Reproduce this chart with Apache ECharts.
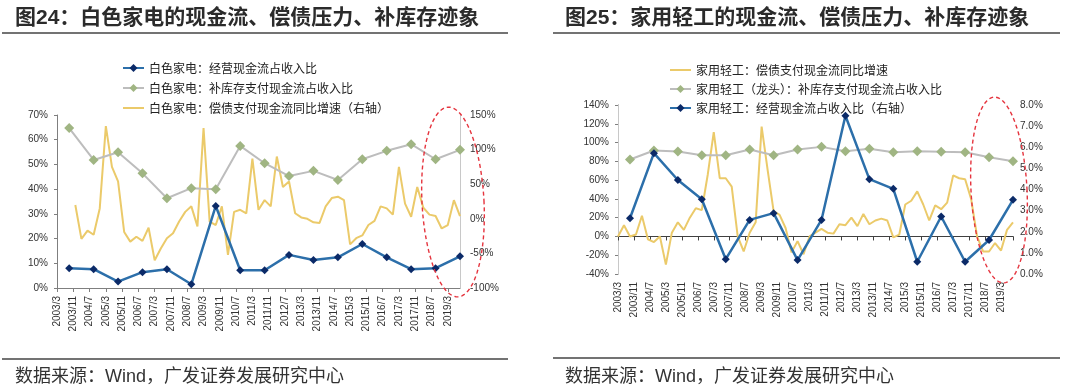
<!DOCTYPE html>
<html>
<head>
<meta charset="utf-8">
<script src="https://cdn.jsdelivr.net/npm/echarts@6.0.0/dist/echarts.min.js"></script>
<style>
html,body{margin:0;padding:0;background:#ffffff;}
#c{width:1080px;height:390px;}
</style>
</head>
<body>
<div id="c"></div>
<script>
// ---------------- DATA ----------------
// Chart 1 (图24 白色家电)
const w_title = '图24：白色家电的现金流、偿债压力、补库存迹象';
const w_nameBlue = '白色家电：经营现金流占收入比';
const w_nameGreen = '白色家电：补库存支付现金流占收入比';
const w_nameYellow = '白色家电：偿债支付现金流同比增速（右轴）';
// annual points
const w_annualDates = ['2003/9','2004/9','2005/9','2006/9','2007/9','2008/9','2009/9','2010/9','2011/9','2012/9','2013/9','2014/9','2015/9','2016/9','2017/9','2018/9','2019/9'];
const w_blue  = [8.0, 7.6, 2.6, 6.4, 7.6, 1.5, 33.2, 7.2, 7.2, 13.4, 11.3, 12.4, 17.8, 12.4, 7.6, 8.0, 12.8];
const w_green = [64.7, 51.8, 54.9, 46.4, 36.3, 40.4, 40.0, 57.5, 50.5, 45.3, 47.4, 43.7, 52.1, 55.5, 58.2, 52.1, 55.9];
// quarterly points, 2003/12 .. 2019/9
const w_yellowDates = ['2003/12','2004/3','2004/6','2004/9','2004/12','2005/3','2005/6','2005/9','2005/12','2006/3','2006/6','2006/9','2006/12','2007/3','2007/6','2007/9','2007/12','2008/3','2008/6','2008/9','2008/12','2009/3','2009/6','2009/9','2009/12','2010/3','2010/6','2010/9','2010/12','2011/3','2011/6','2011/9','2011/12','2012/3','2012/6','2012/9','2012/12','2013/3','2013/6','2013/9','2013/12','2014/3','2014/6','2014/9','2014/12','2015/3','2015/6','2015/9','2015/12','2016/3','2016/6','2016/9','2016/12','2017/3','2017/6','2017/9','2017/12','2018/3','2018/6','2018/9','2018/12','2019/3','2019/6','2019/9'];
const w_yellow = [20, -29, -17, -23, 15, 134, 75, 54, -19, -33, -26, -32, -13, -60, -43, -28,
  -21, -4, 10, 18, -11, 131, -4, -9, 18, -52, 10, 13, 8, 87, 13, 27,
  18, 90, 46, 54, 8, 2, 0, -5, -6, 18, 30, 32, 27, -37, -28, -24,
  -9, -3, 18, 15, 6, 75, 22, 3, 46, 16, 6, 4, -14, -9, 27, 4];

// Chart 2 (图25 家用轻工)
const h_title = '图25：家用轻工的现金流、偿债压力、补库存迹象';
const h_nameYellow = '家用轻工：偿债支付现金流同比增速';
const h_nameGreen = '家用轻工（龙头）：补库存支付现金流占收入比';
const h_nameBlue = '家用轻工：经营现金流占收入比（右轴）';
const h_annualDates = w_annualDates;
const h_green = [81.9, 91.5, 90.4, 86.5, 86.5, 92.5, 86.5, 92.5, 95.4, 90.8, 93.3, 89.7, 90.8, 90.1, 89.7, 84.4, 80.1];
const h_blue  = [2.64, 5.72, 4.45, 3.54, 0.70, 2.56, 2.88, 0.66, 2.56, 7.49, 4.49, 4.03, 0.58, 2.72, 0.58, 1.61, 3.51];
const h_yellowDates = ['2003/3','2003/6','2003/9'].concat(w_yellowDates);
const h_yellow = [0, 12, 0, 2, 22, -3, -6, 0, -30, 4, 15, 7, 20, 30, 28, 66,
  111, 62, 62, 53, 0, -16, 4, 15, 117, 71, 27, 23, 9, -17, -5, -19,
  0, 4, 8, 4, 3, 13, 12, 20, 11, 24, 13, 17, 19, 17, -1, 2,
  34, 38, 48, 34, 17, 33, 29, 36, 65, 62, 61, 40, 0, -16, -16, -7,
  -15, 7, 15];

const sourceText = '数据来源：Wind，广发证券发展研究中心';

// ---------------- HELPERS ----------------
function mi(s){ const p = s.split('/').map(Number); return (p[0]-2003)*12 + (p[1]-3); }
function pairs(dates, vals){ return dates.map((d,i)=>[mi(d), vals[i]]); }
function monthLabel(v){
  if (v % 8 !== 0) return '';
  const t = v + 2; return (2003 + Math.floor(t/12)) + '/' + ((t % 12) + 1);
}
function ellipse(cx, cy, rx, ry, rot){
  const a = rot*Math.PI/180, pts = [];
  for (let i=0;i<96;i++){
    const t = i/96*2*Math.PI, x = rx*Math.cos(t), y = ry*Math.sin(t);
    pts.push([cx + x*Math.cos(a) - y*Math.sin(a), cy + x*Math.sin(a) + y*Math.cos(a)]);
  }
  return pts;
}

const BLUE = '#2C6FAA', BLUE_DOT = '#0B2A68', GREEN_DOT = '#A0B583', GRAY = '#BDBDBD', YEL = '#EBCA6A';
const AX = '#7F7F7F', AXL = '#C8C8C8', TXT = '#333333';
const LATIN = '"Liberation Sans", Arial, sans-serif';
const CJK = '"Noto Sans CJK SC", sans-serif';
const LINE_ICON = 'path://M0,0 L84,0 L84,8 L0,8 Z';

const xBase = {
  type: 'value', min: 0, max: 198, interval: 8, splitLine: {show: false},
  axisLabel: {rotate: 90, fontSize: 10, color: TXT, fontFamily: LATIN, margin: 8, showMaxLabel: false, formatter: monthLabel}
};

const chart = echarts.init(document.getElementById('c'), null, {renderer: 'canvas'});
chart.setOption({
  backgroundColor: '#ffffff',
  animation: false,
  grid: [
    {left: 57, top: 115, width: 403, height: 173},
    {left: 618, top: 105, width: 395, height: 169}
  ],
  xAxis: [
    Object.assign({}, xBase, {gridIndex: 0, position: 'bottom',
      axisLine: {show: true, onZero: false, lineStyle: {color: AX, width: 1}},
      axisTick: {show: true, length: 4, lineStyle: {color: AX}}}),
    Object.assign({}, xBase, {gridIndex: 1, position: 'bottom',
      axisLine: {show: false, onZero: false}, axisTick: {show: false}}),
    Object.assign({}, xBase, {gridIndex: 1, position: 'bottom',
      axisLine: {show: true, onZero: true, onZeroAxisIndex: 2, lineStyle: {color: '#404040', width: 1}},
      axisTick: {show: true, length: 4, lineStyle: {color: '#404040'}},
      axisLabel: {show: false}})
  ],
  yAxis: [
    {gridIndex: 0, type: 'value', position: 'left', min: 0, max: 70, interval: 10, splitLine: {show: false},
     axisLine: {show: true, lineStyle: {color: AX}}, axisTick: {show: true, length: 3, lineStyle: {color: AX}},
     axisLabel: {formatter: '{value}%', fontSize: 10, color: TXT, fontFamily: LATIN, margin: 9}},
    {gridIndex: 0, type: 'value', position: 'right', min: -100, max: 150, interval: 50, splitLine: {show: false},
     axisLine: {show: true, lineStyle: {color: AXL}}, axisTick: {show: false},
     axisLabel: {formatter: '{value}%', fontSize: 10, color: TXT, fontFamily: LATIN, margin: 10}},
    {gridIndex: 1, type: 'value', position: 'left', min: -40, max: 140, interval: 20, splitLine: {show: false},
     axisLine: {show: true, lineStyle: {color: AX}}, axisTick: {show: true, length: 3, lineStyle: {color: AX}},
     axisLabel: {formatter: '{value}%', fontSize: 10, color: TXT, fontFamily: LATIN, margin: 9}},
    {gridIndex: 1, type: 'value', position: 'right', min: 0, max: 8, interval: 1, splitLine: {show: false},
     axisLine: {show: true, lineStyle: {color: AXL}}, axisTick: {show: false},
     axisLabel: {formatter: v => v.toFixed(1) + '%', fontSize: 10, color: TXT, fontFamily: LATIN, margin: 7}}
  ],
  legend: [
    {data: [w_nameBlue, w_nameGreen, {name: w_nameYellow, icon: LINE_ICON}], orient: 'vertical', left: 122, top: 62, padding: 0,
     itemWidth: 21, itemHeight: 10, itemGap: 8, textStyle: {fontSize: 12, lineHeight: 12, color: '#222', fontFamily: CJK}},
    {data: [{name: h_nameYellow, icon: LINE_ICON}, h_nameGreen, h_nameBlue], orient: 'vertical', left: 669, top: 64, padding: 0,
     itemWidth: 21, itemHeight: 10, itemGap: 7, textStyle: {fontSize: 12, lineHeight: 12, color: '#222', fontFamily: CJK}}
  ],
  series: [
    {name: w_nameYellow, type: 'line', xAxisIndex: 0, yAxisIndex: 1, data: pairs(w_yellowDates, w_yellow),
     symbol: 'none', lineStyle: {color: YEL, width: 2}, itemStyle: {color: YEL}, z: 2},
    {name: w_nameGreen, type: 'line', xAxisIndex: 0, yAxisIndex: 0, data: pairs(w_annualDates, w_green),
     symbol: 'diamond', symbolSize: 10, lineStyle: {color: GRAY, width: 2}, itemStyle: {color: GREEN_DOT}, z: 3},
    {name: w_nameBlue, type: 'line', xAxisIndex: 0, yAxisIndex: 0, data: pairs(w_annualDates, w_blue),
     symbol: 'diamond', symbolSize: 8, lineStyle: {color: BLUE, width: 2.5}, itemStyle: {color: BLUE_DOT}, z: 4},

    {name: h_nameYellow, type: 'line', xAxisIndex: 1, yAxisIndex: 2, data: pairs(h_yellowDates, h_yellow),
     symbol: 'none', lineStyle: {color: YEL, width: 2}, itemStyle: {color: YEL}, z: 2},
    {name: h_nameGreen, type: 'line', xAxisIndex: 1, yAxisIndex: 2, data: pairs(h_annualDates, h_green),
     symbol: 'diamond', symbolSize: 10, lineStyle: {color: GRAY, width: 2}, itemStyle: {color: GREEN_DOT}, z: 3},
    {name: h_nameBlue, type: 'line', xAxisIndex: 1, yAxisIndex: 3, data: pairs(h_annualDates, h_blue),
     symbol: 'diamond', symbolSize: 8, lineStyle: {color: BLUE, width: 2.5}, itemStyle: {color: BLUE_DOT}, z: 4}
  ],
  graphic: [
    {type: 'text', x: 15, y: 18, z: 100, style: {text: w_title, fontSize: 21, fontWeight: 'bold', fontFamily: LATIN + ',' + CJK, fill: '#2b2b2b', verticalAlign: 'middle'}},
    {type: 'text', x: 565, y: 18, z: 100, style: {text: h_title, fontSize: 21, fontWeight: 'bold', fontFamily: LATIN + ',' + CJK, fill: '#2b2b2b', verticalAlign: 'middle'}},
    {type: 'line', z: 100, shape: {x1: 2, y1: 33, x2: 508, y2: 33}, style: {stroke: '#444', lineWidth: 1.5}},
    {type: 'line', z: 100, shape: {x1: 553, y1: 33, x2: 1060, y2: 33}, style: {stroke: '#444', lineWidth: 1.5}},
    {type: 'line', z: 100, shape: {x1: 2, y1: 359, x2: 508, y2: 359}, style: {stroke: '#444', lineWidth: 1.5}},
    {type: 'line', z: 100, shape: {x1: 553, y1: 358, x2: 1060, y2: 358}, style: {stroke: '#444', lineWidth: 1.5}},
    {type: 'text', x: 15, y: 377, z: 100, style: {text: sourceText, fontSize: 18, fontFamily: LATIN + ',' + CJK, fill: '#333', verticalAlign: 'middle'}},
    {type: 'text', x: 565, y: 377, z: 100, style: {text: sourceText, fontSize: 18, fontFamily: LATIN + ',' + CJK, fill: '#333', verticalAlign: 'middle'}},
    {type: 'polygon', z: 100, shape: {points: ellipse(453, 202, 31, 95, -3)}, style: {fill: 'none', stroke: '#E5343E', lineWidth: 1.4, lineDash: [4, 3]}},
    {type: 'polygon', z: 100, shape: {points: ellipse(999, 190, 28, 93, -3)}, style: {fill: 'none', stroke: '#E5343E', lineWidth: 1.4, lineDash: [4, 3]}}
  ]
});
</script>
</body>
</html>
